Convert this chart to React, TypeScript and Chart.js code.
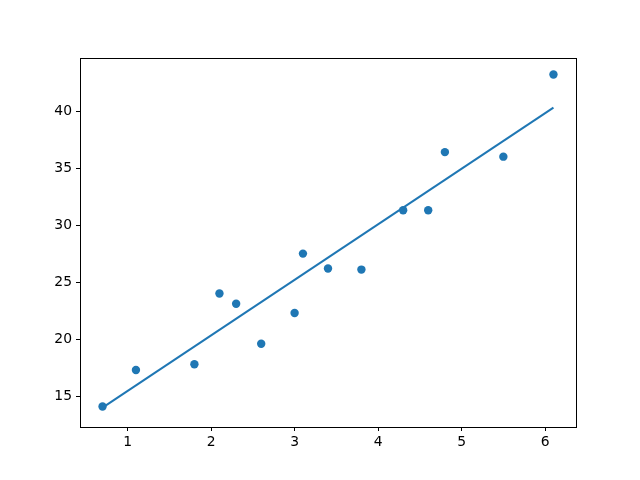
import React, { useEffect, useRef } from "react";
import { Chart, registerables } from "chart.js";

Chart.register(...registerables);

const xValues = [0.7, 1.1, 1.8, 2.1, 2.3, 2.6, 3.0, 3.1, 3.4, 3.8, 4.3, 4.6, 4.8, 5.5, 6.1];
const yValues = [14.1, 17.3, 17.8, 24.0, 23.1, 19.6, 22.3, 27.5, 26.2, 26.1, 31.3, 31.3, 36.4, 36.0, 43.2];
const fitX = [0.7, 6.1];
const fitY = [14.0, 40.3];
const xTicks = [1, 2, 3, 4, 5, 6];
const yTicks = [15, 20, 25, 30, 35, 40];

const BLUE = "#1f77b4";

const framePlugin = {
  id: "frame",
  afterDraw(chart: any) {
    const { ctx, chartArea } = chart;
    ctx.save();
    ctx.strokeStyle = "#000";
    ctx.lineWidth = 1;
    ctx.strokeRect(
      Math.round(chartArea.left) + 0.5,
      Math.round(chartArea.top) + 0.5,
      Math.round(chartArea.right - chartArea.left),
      Math.round(chartArea.bottom - chartArea.top)
    );
    ctx.restore();
  },
};

export default function App() {
  const ref = useRef<HTMLCanvasElement>(null);
  useEffect(() => {
    if (!ref.current) return;
    const chart = new Chart(ref.current, {
      type: "scatter",
      data: {
        datasets: [
          {
            type: "line",
            data: fitX.map((x, i) => ({ x, y: fitY[i] })),
            borderColor: BLUE,
            borderWidth: 2,
            pointRadius: 0,
            showLine: true,
            fill: false,
            order: 0,
          } as any,
          {
            type: "scatter",
            data: xValues.map((x, i) => ({ x, y: yValues[i] })),
            backgroundColor: BLUE,
            borderColor: BLUE,
            pointRadius: 4.2,
            borderWidth: 0,
            order: 1,
          },
        ],
      },
      plugins: [framePlugin],
      options: {
        animation: false,
        responsive: false,
        layout: { padding: { top: 58, right: 64, left: 0, bottom: 0 } },
        plugins: { legend: { display: false }, tooltip: { enabled: false } },
        scales: {
          x: {
            type: "linear",
            min: 0.43,
            max: 6.37,
            afterBuildTicks: (axis: any) => {
              axis.ticks = xTicks.map((v) => ({ value: v }));
            },
            afterFit: (axis: any) => {
              axis.height = 53;
            },
            grid: { drawOnChartArea: false, tickLength: 4, color: "#000", tickColor: "#000" },
            border: { display: true, color: "#000" },
            ticks: {
              color: "#000",
              padding: 3,
              maxRotation: 0,
              font: { family: "DejaVu Sans", size: 13.9 },
            },
          },
          y: {
            type: "linear",
            min: 12.3,
            max: 44.65,
            afterBuildTicks: (axis: any) => {
              axis.ticks = yTicks.map((v) => ({ value: v }));
            },
            afterFit: (axis: any) => {
              axis.width = 80;
            },
            grid: { drawOnChartArea: false, tickLength: 4, color: "#000", tickColor: "#000" },
            border: { display: true, color: "#000" },
            ticks: {
              color: "#000",
              padding: 4,
              font: { family: "DejaVu Sans", size: 13.9 },
            },
          },
        },
      },
    });
    return () => chart.destroy();
  }, []);
  return (
    <div style={{ position: "fixed", left: 0, top: 0, width: 640, height: 480, background: "#fff" }}>
      <canvas ref={ref} width={640} height={480} style={{ width: 640, height: 480 }} />
    </div>
  );
}
